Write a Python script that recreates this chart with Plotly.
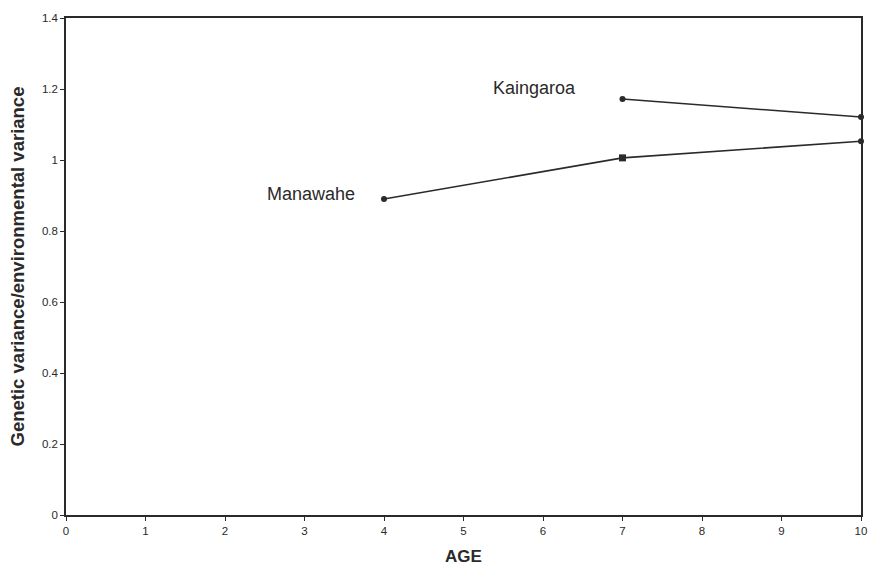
import plotly.graph_objects as go

# Ratio of genetic to environmental variance by age, for two sites
manawahe_age = [4, 7, 10]
manawahe_ratio = [0.89, 1.006, 1.053]
manawahe_symbols = ["circle", "square", "circle"]
manawahe_sizes = [6, 7, 6]

kaingaroa_age = [7, 10]
kaingaroa_ratio = [1.172, 1.121]

x_ticks = list(range(0, 11))
y_ticks = [0, 0.2, 0.4, 0.6, 0.8, 1, 1.2, 1.4]
y_tick_text = ["0", "0.2", "0.4", "0.6", "0.8", "1", "1.2", "1.4"]

ink = "#2a2a2a"
font_family = "Liberation Sans, Arial, sans-serif"

fig = go.Figure()
fig.add_trace(go.Scatter(
    x=manawahe_age, y=manawahe_ratio, mode="lines+markers",
    line=dict(color=ink, width=1.6),
    marker=dict(color=ink, symbol=manawahe_symbols, size=manawahe_sizes,
                opacity=1, line=dict(width=0)),
    cliponaxis=False, showlegend=False,
))
fig.add_trace(go.Scatter(
    x=kaingaroa_age, y=kaingaroa_ratio, mode="lines+markers",
    line=dict(color=ink, width=1.6),
    marker=dict(color=ink, symbol="circle", size=6, line=dict(width=0)),
    cliponaxis=False, showlegend=False,
))

fig.add_annotation(x=5.89, y=1.204, text="Kaingaroa", showarrow=False,
                   font=dict(size=18, color=ink, family=font_family))
fig.add_annotation(x=3.08, y=0.903, text="Manawahe", showarrow=False,
                   font=dict(size=18, color=ink, family=font_family))

axis_common = dict(
    showgrid=False, zeroline=False, showline=True, linecolor=ink, linewidth=1.5,
    mirror=True, ticks="outside", ticklen=4, tickcolor=ink,
    tickfont=dict(size=11.5, color=ink, family=font_family),
)

fig.update_xaxes(range=[0, 10], tickvals=x_ticks,
                 title=dict(text="<b>AGE</b>", font=dict(size=17, color=ink, family=font_family), standoff=15),
                 **axis_common)
fig.update_yaxes(range=[0, 1.4], tickvals=y_ticks, ticktext=y_tick_text,
                 title=dict(text="<b>Genetic variance/environmental variance</b>",
                            font=dict(size=18.5, color=ink, family=font_family), standoff=12),
                 **axis_common)

fig.update_layout(
    width=875, height=571,
    margin=dict(l=66, r=8, t=18, b=54),
    paper_bgcolor="white", plot_bgcolor="white",
)

fig.write_html("out.html")
